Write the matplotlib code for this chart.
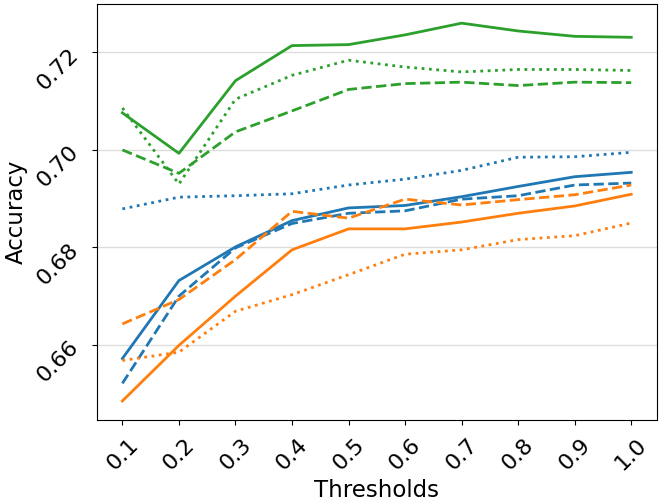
import numpy as np
import matplotlib
matplotlib.use('Agg')
import matplotlib.pyplot as plt

thresholds = [0.1, 0.2, 0.3, 0.4, 0.5, 0.6, 0.7, 0.8, 0.9, 1.0]

# blue
blue_solid = [0.6572, 0.6732, 0.6801, 0.6855, 0.6881, 0.6886, 0.6904, 0.6925, 0.6945, 0.6954]
blue_dashed = [0.6521, 0.6700, 0.6799, 0.6849, 0.6870, 0.6875, 0.6899, 0.6906, 0.6928, 0.6932]
blue_dotted = [0.6879, 0.6903, 0.6906, 0.6910, 0.6928, 0.6940, 0.6958, 0.6985, 0.6986, 0.6995]

# orange
orange_solid = [0.6485, 0.6599, 0.6700, 0.6795, 0.6838, 0.6838, 0.6852, 0.6870, 0.6885, 0.6909]
orange_dashed = [0.6643, 0.6693, 0.6775, 0.6874, 0.6860, 0.6899, 0.6887, 0.6898, 0.6908, 0.6928]
orange_dotted = [0.6568, 0.6585, 0.6669, 0.6703, 0.6744, 0.6786, 0.6795, 0.6816, 0.6824, 0.6850]

# green
green_solid = [0.7076, 0.6993, 0.7142, 0.7214, 0.7216, 0.7236, 0.7260, 0.7244, 0.7233, 0.7231]
green_dashed = [0.7000, 0.6952, 0.7037, 0.7080, 0.7124, 0.7136, 0.7139, 0.7132, 0.7139, 0.7138]
green_dotted = [0.7086, 0.6930, 0.7104, 0.7153, 0.7184, 0.7170, 0.7160, 0.7165, 0.7165, 0.7163]

fig = plt.figure(figsize=(6.64, 5.04), dpi=100)
ax = fig.add_axes([0.146, 0.167, 0.843, 0.8245])

lw = 2
ax.plot(thresholds, blue_solid, color='C0', linestyle='-', linewidth=lw)
ax.plot(thresholds, blue_dashed, color='C0', linestyle='--', linewidth=lw)
ax.plot(thresholds, blue_dotted, color='C0', linestyle=':', linewidth=lw)
ax.plot(thresholds, orange_solid, color='C1', linestyle='-', linewidth=lw)
ax.plot(thresholds, orange_dashed, color='C1', linestyle='--', linewidth=lw)
ax.plot(thresholds, orange_dotted, color='C1', linestyle=':', linewidth=lw)
ax.plot(thresholds, green_solid, color='C2', linestyle='-', linewidth=lw)
ax.plot(thresholds, green_dashed, color='C2', linestyle='--', linewidth=lw)
ax.plot(thresholds, green_dotted, color='C2', linestyle=':', linewidth=lw)

ax.set_xticks(thresholds)
ax.set_xticklabels(['%.1f' % t for t in thresholds])
ax.set_yticks([0.66, 0.68, 0.70, 0.72])
ax.tick_params(axis='both', labelsize=16, rotation=45, pad=7)
ax.set_xlabel('Thresholds', fontsize=16.5)
ax.set_ylabel('Accuracy', fontsize=16.5)
ax.yaxis.grid(color='#dddddd', linewidth=1)
ax.set_axisbelow(True)

fig.savefig('out.png', dpi=100)
